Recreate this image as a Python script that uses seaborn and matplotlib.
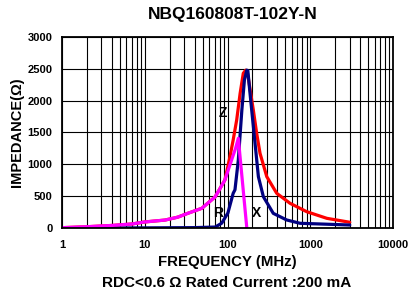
import matplotlib
matplotlib.use("Agg")
import matplotlib.pyplot as plt
import seaborn as sns
import pandas as pd
from matplotlib.ticker import FixedLocator, LogLocator, NullFormatter

title = "NBQ160808T-102Y-N"
x_label = "FREQUENCY (MHz)"
y_label = "IMPEDANCE(Ω)"
note = "RDC<0.6 Ω Rated Current :200 mA"

# Z (red)
z_freq = [1, 2, 4, 7, 10, 17.6, 25, 33, 49, 71, 93, 107, 117, 129, 142, 155, 166, 175, 205, 225, 247, 298, 393, 569, 906, 1585, 3000]
z_val = [5, 20, 40, 63, 95, 125, 170, 230, 310, 490, 754, 1120, 1382, 1696, 2115, 2430, 2480, 2420, 1853, 1487, 1173, 806, 545, 388, 256, 152, 90]
# X (navy)
x_freq = [1, 10, 40, 71, 85, 101, 117, 123, 135, 149, 160, 171, 176, 187, 215, 236, 271, 357, 519, 752, 3000]
x_val = [0, 2, 6, 15, 75, 235, 545, 600, 1068, 1853, 2325, 2480, 2470, 2115, 1330, 806, 492, 230, 126, 74, 47]
# R (magenta)
r_freq = [1, 2, 4, 7, 10, 17.6, 25, 33, 49, 71, 93, 112, 125, 135, 171]
r_val = [5, 20, 40, 63, 95, 125, 170, 230, 310, 490, 754, 1068, 1250, 1409, 0]

labels = ["Z", "R", "X"]
label_freq = [88, 77, 227]
label_val = [1806, 235, 235]

x_ticks = [1, 10, 100, 1000, 10000]
x_tick_labels = ["1", "10", "100", "1000", "10000"]
y_ticks = [0, 500, 1000, 1500, 2000, 2500, 3000]

df = pd.concat([
    pd.DataFrame({"freq": z_freq, "imp": z_val, "curve": "Z"}),
    pd.DataFrame({"freq": x_freq, "imp": x_val, "curve": "X"}),
    pd.DataFrame({"freq": r_freq, "imp": r_val, "curve": "R"}),
], ignore_index=True)

sns.set_style("white")
plt.rcParams["font.family"] = ["Liberation Sans", "DejaVu Sans"]
for k in ["text.color", "axes.labelcolor", "xtick.color", "ytick.color"]:
    plt.rcParams[k] = "black"

fig = plt.figure(figsize=(4.12, 3.0), dpi=100)
ax = fig.add_axes([0.1505, 0.24, 0.8035, 0.6367])

sns.lineplot(data=df, x="freq", y="imp", hue="curve", hue_order=["Z", "X", "R"],
             palette={"Z": "#FF0000", "X": "#000080", "R": "#FF00FF"},
             linewidth=2.3, sort=False, estimator=None, legend=False, ax=ax)

ax.set_xscale("log")
ax.set_xlim(1, 10000)
ax.set_ylim(0, 3000)
ax.set_xticks(x_ticks)
ax.set_xticklabels(x_tick_labels, fontsize=8, fontweight="bold")
ax.xaxis.set_minor_locator(LogLocator(base=10, subs=range(2, 10)))
ax.xaxis.set_minor_formatter(NullFormatter())
ax.set_yticks(y_ticks)
ax.set_yticklabels([str(v) for v in y_ticks], fontsize=8, fontweight="bold")
ax.grid(True, which="major", axis="both", color="black", linewidth=0.8)
ax.grid(True, which="minor", axis="x", color="black", linewidth=0.8)
ax.tick_params(axis="y", which="both", length=0, pad=7)
ax.tick_params(axis="x", which="both", length=0, pad=9)
for s in ax.spines.values():
    s.set_color("black")
    s.set_linewidth(1.3)

ax.set_xlabel("")
ax.set_ylabel("")
fig.text(0.041, 0.558, y_label, fontsize=10.5, fontweight="bold", rotation=90,
         ha="center", va="center")
fig.text(0.552, 0.127, x_label, fontsize=10.8, fontweight="bold", ha="center", va="center")
fig.text(0.5655, 0.953, title, fontsize=12.5, fontweight="bold", ha="center", va="center")
fig.text(0.551, 0.057, note, fontsize=11, fontweight="bold", ha="center", va="center")

for t, f, v in zip(labels, label_freq, label_val):
    ax.text(f, v, t, fontsize=10, fontweight="bold", ha="center", va="center")

fig.savefig("out.png", dpi=100)
